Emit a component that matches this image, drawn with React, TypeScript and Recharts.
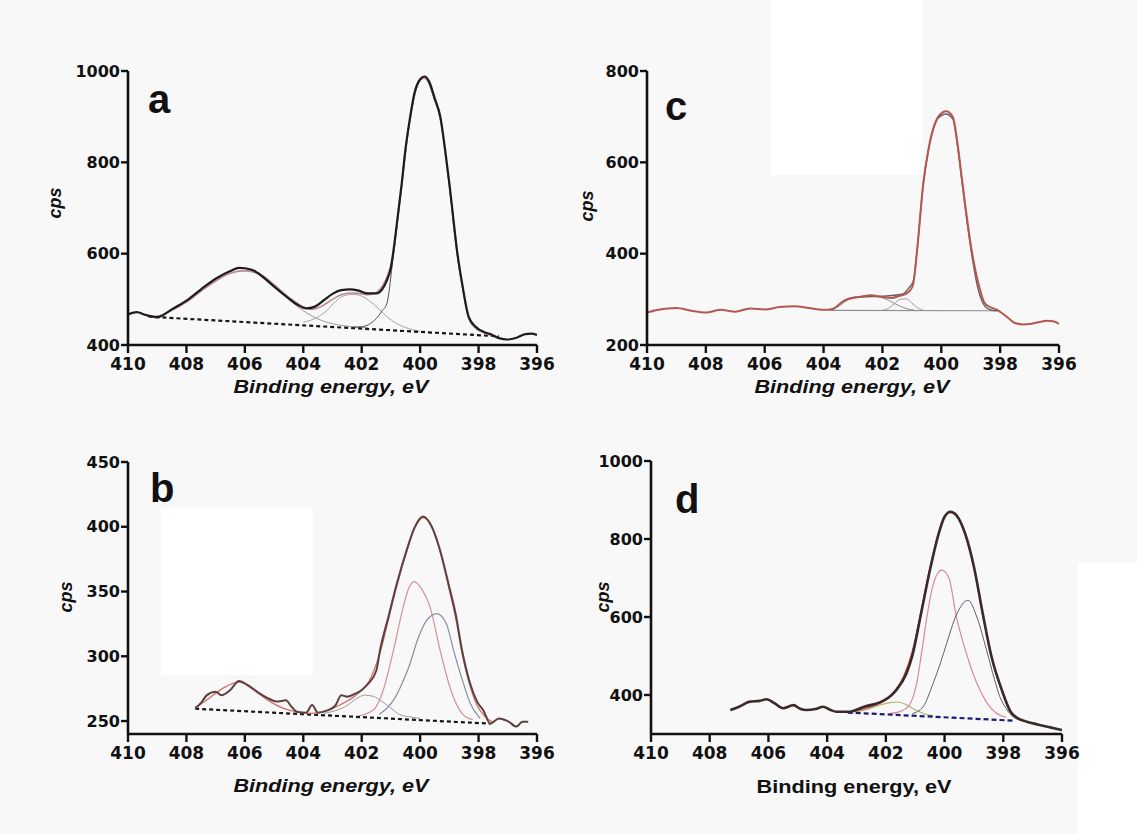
import { Line, LineChart, XAxis, YAxis } from "recharts";

type Pt = [number, number];

const X_TICKS = [410, 408, 406, 404, 402, 400, 398, 396];

// panel a
const A_TICKS = [400, 600, 800, 1000];
const aMeasured: Pt[] = [
  [410, 467], [409.7, 472], [409.4, 466], [409, 461], [408.5, 478], [408, 497], [407.5, 522],
  [407, 545], [406.5, 562], [406.2, 569], [406, 568], [405.7, 563], [405.4, 550], [405, 528],
  [404.6, 507], [404.2, 488], [403.9, 480], [403.6, 484], [403.3, 498], [403, 512], [402.7, 520],
  [402.4, 522], [402.1, 519], [401.8, 513], [401.5, 513], [401.3, 522], [401.15, 540], [401, 570],
  [400.91, 608], [400.77, 680], [400.63, 754], [400.5, 830], [400.34, 900], [400.2, 950],
  [400, 982], [399.85, 988], [399.7, 978], [399.5, 940], [399.31, 900], [399.15, 830],
  [399, 754], [398.87, 680], [398.74, 608], [398.55, 530], [398.34, 462], [398.1, 440],
  [397.8, 428], [397.6, 424], [397.3, 415], [397.03, 412], [396.7, 416], [396.4, 424], [396.2, 425], [396, 422],
];
const aFit: Pt[] = [
  [409.3, 462], [409, 463], [408.5, 476], [408, 494], [407.5, 518], [407, 540], [406.5, 557],
  [406, 563], [405.5, 556], [405, 532], [404.5, 505], [404, 484], [403.7, 478], [403.4, 484],
  [403, 500], [402.7, 510], [402.4, 514], [402.1, 513], [401.8, 510], [401.5, 515], [401.3, 528],
  [401.1, 555], [400.91, 602], [400.77, 676], [400.63, 750], [400.5, 826], [400.34, 897],
  [400.2, 947], [400, 980], [399.85, 985], [399.7, 975], [399.5, 936], [399.31, 896],
  [399.15, 826], [399, 750], [398.87, 676], [398.74, 604], [398.55, 526], [398.34, 460],
  [398.1, 438], [397.8, 426], [397.5, 420],
];
const aPeak406: Pt[] = [
  [409.3, 462], [409, 463], [408.5, 476], [408, 494], [407.5, 518], [407, 540], [406.5, 557],
  [406.1, 562], [405.5, 555], [405, 530], [404.5, 500], [404, 475], [403.6, 460], [403.2, 450],
  [402.8, 444], [402.3, 440], [401.8, 438],
];
const aPeak402: Pt[] = [
  [404, 450], [403.6, 458], [403.2, 475], [402.9, 495], [402.6, 508], [402.3, 511], [402, 507],
  [401.7, 495], [401.4, 478], [401.1, 460], [400.8, 447], [400.4, 436], [400, 430],
];
const aPeak400: Pt[] = [
  [402.3, 439], [402, 440], [401.7, 447], [401.5, 458], [401.3, 475], [401.14, 491],
  [400.91, 600], [400.63, 750], [400.34, 896], [400, 979], [399.85, 984], [399.5, 935],
  [399.31, 895], [399, 748], [398.74, 602], [398.55, 525], [398.34, 458], [398.1, 436],
  [397.8, 427], [397.5, 420],
];
const aBaseline: Pt[] = [[409.3, 462], [397.3, 419]];

// panel b
const B_TICKS = [250, 300, 350, 400, 450];
const bMeasured: Pt[] = [
  [407.7, 260], [407.5, 264], [407.3, 270], [407, 272.7], [406.8, 270], [406.5, 274], [406.2, 281],
  [405.9, 277.8], [405.5, 271.4], [405.2, 267.5], [404.9, 265], [404.6, 266], [404.4, 261],
  [404.2, 257], [403.9, 256.5], [403.7, 262.4], [403.5, 256.5], [403.2, 258], [402.9, 262],
  [402.7, 270], [402.5, 268.8], [402.2, 271.4], [402, 274], [401.77, 279], [401.5, 289],
  [401.37, 305], [401.08, 331], [400.8, 356], [400.46, 382], [400.2, 399], [399.9, 408],
  [399.6, 400], [399.32, 382], [399.03, 356], [398.77, 331], [398.57, 305], [398.29, 279],
  [398.05, 265], [397.83, 258], [397.6, 248], [397.3, 252], [397, 250], [396.7, 245.7],
  [396.5, 249.5], [396.3, 249.5],
];
const bFit: Pt[] = [
  [407.7, 260], [407.2, 268], [406.7, 276], [406.2, 280], [405.7, 274], [405.2, 266], [404.7, 260],
  [404.2, 257], [403.7, 256], [403.2, 258], [402.7, 263], [402.2, 270], [401.77, 280],
  [401.37, 303], [401.08, 329], [400.8, 354], [400.46, 381], [400.2, 398], [399.9, 407],
  [399.6, 400], [399.32, 381], [399.03, 354], [398.77, 328], [398.57, 303], [398.29, 277],
  [398.05, 262], [397.8, 254], [397.5, 249],
];
const bPeak402: Pt[] = [
  [403.3, 256], [402.9, 258], [402.5, 262], [402.2, 267], [401.9, 270], [401.6, 269],
  [401.3, 265], [401, 260], [400.7, 255], [400.3, 253], [400, 252],
];
const bPeak400: Pt[] = [
  [402.1, 254], [401.6, 258.5], [401.26, 274], [400.91, 305], [400.6, 336], [400.4, 352],
  [400.2, 357.6], [399.95, 352], [399.66, 338], [399.32, 305], [398.95, 274], [398.57, 256],
  [398.2, 251],
];
const bPeak399: Pt[] = [
  [401.4, 255], [400.9, 266.5], [400.6, 280], [400.35, 294], [400.1, 312], [399.8, 327],
  [399.43, 333], [399.1, 325], [398.86, 305], [398.6, 285], [398.29, 264], [397.95, 252],
];
const bBaseline: Pt[] = [[407.7, 259.5], [397.6, 248]];

// panel c
const C_TICKS = [200, 400, 600, 800];
const cMeasured: Pt[] = [
  [410, 271], [409.7, 276], [409.3, 280], [409, 281], [408.5, 275], [408, 271], [407.5, 277],
  [407, 273], [406.5, 280], [406, 278], [405.5, 283], [405, 285], [404.5, 281], [404, 277],
  [403.7, 279], [403.3, 297], [403, 303], [402.7, 306], [402.4, 309], [402, 305], [401.7, 303],
  [401.4, 308], [401.2, 312], [401, 325], [400.95, 335], [400.82, 408], [400.61, 554],
  [400.44, 627], [400.1, 700], [399.84, 712], [399.61, 700], [399.42, 627], [399.28, 554],
  [398.97, 408], [398.74, 335], [398.52, 291], [398.3, 282], [398.1, 277], [397.9, 268],
  [397.7, 258], [397.5, 248], [397.2, 245], [397, 246], [396.7, 250], [396.4, 253],
  [396.2, 252], [396, 246],
];
const cFit: Pt[] = [
  [403.7, 277], [403.4, 292], [403.1, 303], [402.8, 305], [402.4, 306], [402, 307], [401.6, 309],
  [401.3, 312], [401.1, 325], [400.95, 340], [400.82, 410], [400.61, 555], [400.44, 625],
  [400.1, 697], [399.84, 706], [399.61, 695], [399.42, 622], [399.28, 548], [398.97, 400],
  [398.74, 320], [398.52, 285], [398.3, 276], [398.1, 275],
];
const cPeak403: Pt[] = [
  [403.8, 276], [403.5, 284], [403.2, 298], [402.9, 305], [402.5, 307], [402.1, 305],
  [401.8, 298], [401.5, 288], [401.2, 280], [400.9, 276],
];
const cPeak401: Pt[] = [
  [402, 276], [401.8, 280], [401.6, 290], [401.4, 300], [401.2, 301], [401, 292], [400.8, 281],
  [400.6, 276],
];
const cBaseline: Pt[] = [[403.8, 276], [398.1, 275]];

// panel d
const D_TICKS = [400, 600, 800, 1000];
const dMeasured: Pt[] = [
  [407.3, 361.5], [407, 370], [406.63, 383], [406.3, 385], [406.06, 389], [405.8, 379],
  [405.5, 366], [405.15, 374], [404.9, 364], [404.7, 361.5], [404.4, 364], [404.13, 370],
  [403.9, 362], [403.68, 357], [403.22, 357], [403, 362], [402.66, 372], [402.4, 376],
  [402.09, 385], [401.8, 400], [401.64, 413], [401.3, 455], [401.1, 500], [400.8, 609],
  [400.5, 720], [400.2, 814], [400, 857], [399.8, 870], [399.6, 861.5], [399.3, 814],
  [399, 729], [398.7, 609], [398.4, 498], [398.05, 413], [397.75, 357], [397.5, 340],
  [397.2, 331.6], [396.8, 324], [396.4, 317], [396, 310],
];
const dFit: Pt[] = [
  [403.3, 355], [402.8, 364], [402.3, 376], [402, 388], [401.7, 410], [401.4, 447], [401.1, 512],
  [400.8, 615], [400.5, 725], [400.2, 816], [400, 857], [399.8, 868], [399.6, 860],
  [399.3, 812], [399, 726], [398.7, 606], [398.4, 495], [398.05, 410], [397.75, 355],
  [397.5, 338],
];
const dPeak400: Pt[] = [
  [401.9, 352], [401.5, 358], [401.24, 370], [400.95, 430], [400.78, 510], [400.6, 601],
  [400.4, 680], [400.1, 720], [399.85, 700], [399.6, 601], [399.35, 530], [399.1, 470],
  [398.9, 430], [398.6, 385], [398.23, 353], [397.9, 343],
];
const dPeak399: Pt[] = [
  [401.1, 352], [400.73, 370], [400.39, 430], [400.15, 480], [399.93, 532], [399.6, 605],
  [399.2, 643], [398.9, 600], [398.57, 515], [398.3, 440], [398.12, 396], [397.9, 365],
  [397.66, 344], [397.4, 336],
];
const dPeak402: Pt[] = [
  [403.1, 357], [402.7, 362], [402.3, 372], [401.9, 380], [401.6, 382], [401.3, 375],
  [401, 362], [400.7, 352], [400.4, 347],
];
const dBaseline: Pt[] = [[403.3, 355], [397.6, 334]];

interface Series {
  pts: Pt[];
  color: string;
  w: number;
  dash?: string;
}

interface PanelProps {
  left: number;
  top: number;
  width: number;
  height: number;
  yWidth: number;
  right: number;
  yDomain: [number, number];
  yTicks: number[];
  series: Series[];
}

const tickFont = {
  fontFamily: "DejaVu Sans, Arial, sans-serif",
  fontWeight: 700,
  fontSize: 16,
  fill: "#111",
};

function Panel({ left, top, width, height, yWidth, right, yDomain, yTicks, series }: PanelProps) {
  return (
    <div style={{ position: "absolute", left, top }}>
      <LineChart width={width} height={height} margin={{ top: 16, right, bottom: 0, left: 0 }}>
        <XAxis
          type="number"
          dataKey="x"
          domain={[396, 410]}
          reversed
          ticks={X_TICKS}
          height={30}
          axisLine={{ stroke: "#111", strokeWidth: 2.6 }}
          tickLine={{ stroke: "#111", strokeWidth: 2.4 }}
          tickSize={8}
          tickMargin={5}
          tick={{ ...tickFont, fontSize: 17 }}
          allowDataOverflow
        />
        <YAxis
          type="number"
          domain={yDomain}
          ticks={yTicks}
          width={yWidth}
          axisLine={{ stroke: "#111", strokeWidth: 2.6 }}
          tickLine={{ stroke: "#111", strokeWidth: 2.4 }}
          tickSize={7}
          tickMargin={1}
          tick={tickFont}
          allowDataOverflow
        />
        {series.map((s, i) => (
          <Line
            key={i}
            data={s.pts.map(([x, y]) => ({ x, y }))}
            dataKey="y"
            type={s.pts.length > 2 ? "monotone" : "linear"}
            stroke={s.color}
            strokeWidth={s.w}
            strokeDasharray={s.dash}
            dot={false}
            activeDot={false}
            isAnimationActive={false}
          />
        ))}
      </LineChart>
    </div>
  );
}

const titleFont = "Liberation Sans, Arial, sans-serif";

export default function App() {
  return (
    <div
      style={{
        position: "absolute",
        left: 0,
        top: 0,
        width: 1137,
        height: 834,
        background: "#f8f8f9",
        overflow: "hidden",
      }}
    >
      <div style={{ position: "absolute", left: 771, top: 0, width: 152, height: 175, background: "#fff" }} />
      <div style={{ position: "absolute", left: 161, top: 508, width: 152, height: 167, background: "#fff" }} />
      <div style={{ position: "absolute", left: 1078, top: 563, width: 59, height: 271, background: "#fff" }} />

      <Panel
        left={40}
        top={55}
        width={522}
        height={320}
        yWidth={88}
        right={25}
        yDomain={[400, 1000]}
        yTicks={A_TICKS}
        series={[
          { pts: aPeak406, color: "#a09a9c", w: 1 },
          { pts: aPeak402, color: "#a3a3a3", w: 1 },
          { pts: aPeak400, color: "#5a4a4e", w: 1 },
          { pts: aBaseline, color: "#161616", w: 2.2, dash: "4 3" },
          { pts: aFit, color: "#c08a90", w: 1.6 },
          { pts: aMeasured, color: "#1c1c1c", w: 2.2 },
        ]}
      />
      <Panel
        left={590}
        top={55}
        width={499}
        height={320}
        yWidth={57}
        right={30}
        yDomain={[200, 800]}
        yTicks={C_TICKS}
        series={[
          { pts: cBaseline, color: "#8f8f8f", w: 1.2 },
          { pts: cPeak403, color: "#8a8a8a", w: 1 },
          { pts: cPeak401, color: "#9c9c9c", w: 1 },
          { pts: cFit, color: "#5e5e64", w: 1.4 },
          { pts: cMeasured, color: "#b4584e", w: 2 },
        ]}
      />
      <Panel
        left={40}
        top={446}
        width={522}
        height={318}
        yWidth={88}
        right={25}
        yDomain={[240, 450]}
        yTicks={B_TICKS}
        series={[
          { pts: bPeak402, color: "#9a9a9a", w: 1 },
          { pts: bPeak400, color: "#d490a0", w: 1.2 },
          { pts: bPeak399, color: "#8a8ea4", w: 1.2 },
          { pts: bBaseline, color: "#161616", w: 2.2, dash: "4 3" },
          { pts: bFit, color: "#d0706a", w: 1.3 },
          { pts: bMeasured, color: "#5e4040", w: 2 },
        ]}
      />
      <Panel
        left={590}
        top={445}
        width={502}
        height={319}
        yWidth={61}
        right={30}
        yDomain={[300, 1000]}
        yTicks={D_TICKS}
        series={[
          { pts: dPeak402, color: "#b0b070", w: 1.2 },
          { pts: dPeak400, color: "#d98b9a", w: 1.2 },
          { pts: dPeak399, color: "#59606e", w: 1 },
          { pts: dBaseline, color: "#1c1c70", w: 2.2, dash: "5 3" },
          { pts: dFit, color: "#c84848", w: 1.3 },
          { pts: dMeasured, color: "#3a2a2a", w: 2.6 },
        ]}
      />

      <svg
        width={1137}
        height={834}
        style={{ position: "absolute", left: 0, top: 0, pointerEvents: "none" }}
      >
        <g fontFamily={titleFont} fontWeight={700} fill="#111">
          <text x={148} y={113} fontSize={40}>a</text>
          <text x={150} y={502} fontSize={40}>b</text>
          <text x={665} y={120} fontSize={40}>c</text>
          <text x={675} y={513} fontSize={40}>d</text>

          <text x={331} y={393} fontSize={18} fontStyle="italic" textAnchor="middle" textLength={195} lengthAdjust="spacingAndGlyphs">
            Binding energy, eV
          </text>
          <text x={852} y={393} fontSize={18} fontStyle="italic" textAnchor="middle" textLength={195} lengthAdjust="spacingAndGlyphs">
            Binding energy, eV
          </text>
          <text x={331} y={792} fontSize={18} fontStyle="italic" textAnchor="middle" textLength={195} lengthAdjust="spacingAndGlyphs">
            Binding energy, eV
          </text>
          <text x={854} y={793} fontSize={18} textAnchor="middle" textLength={195} lengthAdjust="spacingAndGlyphs">
            Binding energy, eV
          </text>

          <text x={55} y={203} fontSize={18} fontStyle="italic" textAnchor="middle" dominantBaseline="central" transform="rotate(-90 55 203)">cps</text>
          <text x={587} y={206} fontSize={18} fontStyle="italic" textAnchor="middle" dominantBaseline="central" transform="rotate(-90 587 206)">cps</text>
          <text x={66} y={597} fontSize={18} fontStyle="italic" textAnchor="middle" dominantBaseline="central" transform="rotate(-90 66 597)">cps</text>
          <text x={603} y={597} fontSize={18} fontStyle="italic" textAnchor="middle" dominantBaseline="central" transform="rotate(-90 603 597)">cps</text>
        </g>
      </svg>
    </div>
  );
}
